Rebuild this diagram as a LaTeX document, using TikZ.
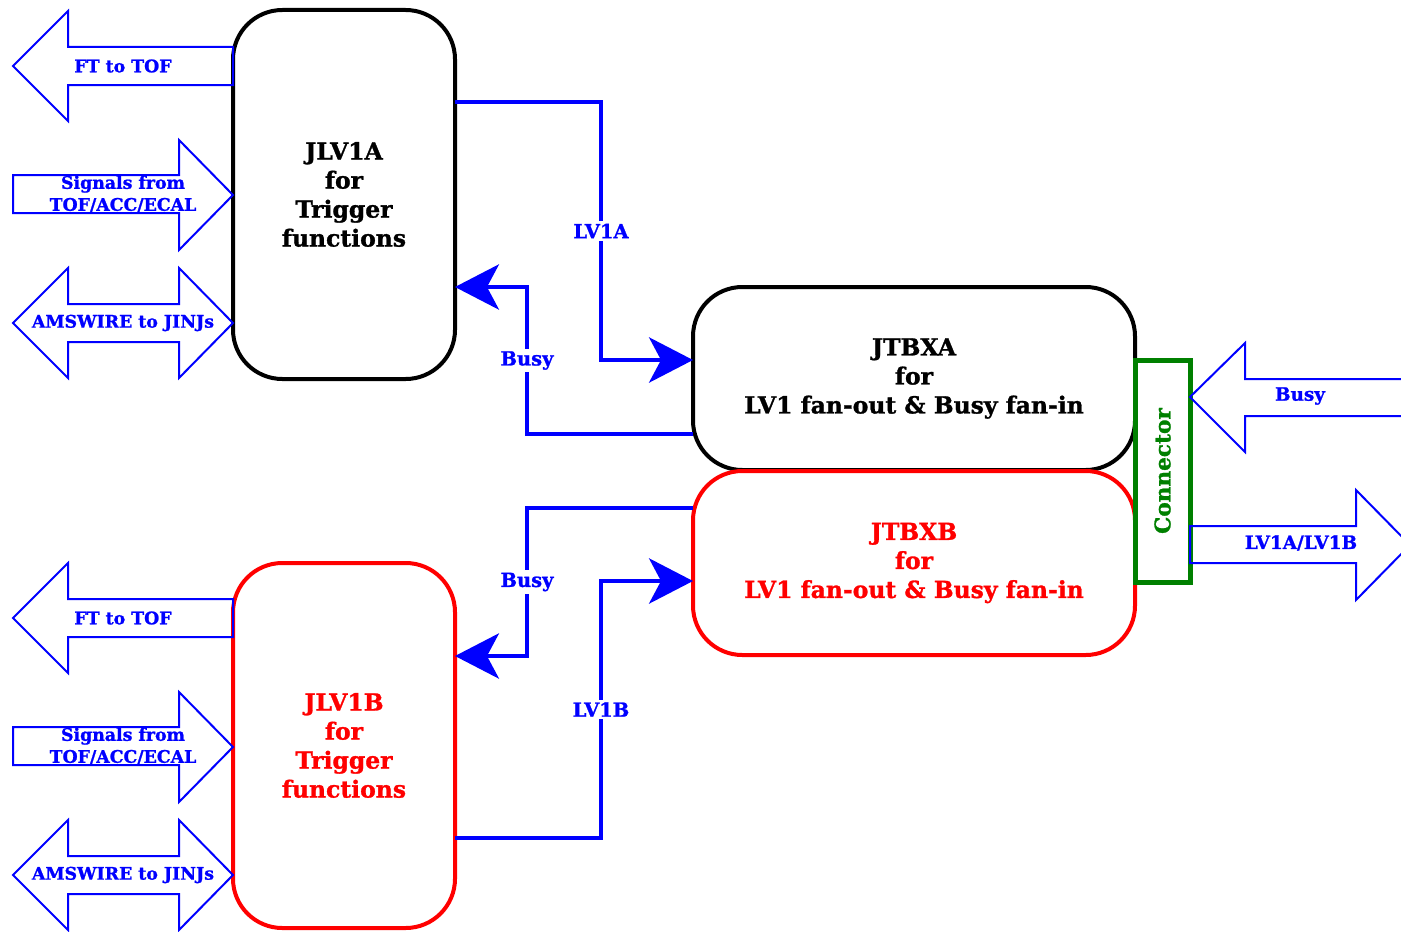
\documentclass[tikz,border=0pt]{standalone}
\usepackage{fontspec}
\setmainfont{DejaVu Serif}[BoldFont={DejaVu Serif Bold},BoldFeatures={FakeBold=1.2}]
\usetikzlibrary{arrows.meta,calc}
\definecolor{pblue}{RGB}{0,0,255}
\definecolor{pred}{RGB}{255,0,0}
\definecolor{pgreen}{RGB}{0,128,0}
\begin{document}
\begin{tikzpicture}[x=0.75pt,y=-0.75pt,
  box/.style={draw,line width=3pt,rounded corners=37pt,inner sep=0pt,outer sep=0pt,
    align=center,font=\fontsize{17.6}{21.75}\selectfont\bfseries},
  blk/.style={draw=pblue,line width=1.5pt,line join=miter},
  blktxt/.style={text=pblue,font=\fontsize{13}{16.5}\selectfont\bfseries,align=center,inner sep=0pt},
  rtxt/.style={blktxt,font=\fontsize{13.8}{16.5}\selectfont\bfseries},
  sig/.style={draw=pblue,line width=2.6pt},
  tipA/.style={-{Stealth[length=33pt,width=34pt,inset=9pt]}},
  lbl/.style={fill=white,text=pblue,font=\fontsize{14.6}{16}\selectfont\bfseries,inner sep=2pt}]
\clip (0,0) rectangle (1401,931);
\fill[white] (0,0) rectangle (1401,931);

% main boxes
\node[box,minimum width=166.5pt,minimum height=276.75pt] (A) at (344,194.5)
  {JLV1A\\for\\Trigger\\functions};
\node[box,draw=pred,text=pred,minimum width=166.5pt,minimum height=273.75pt] (B) at (344,745.5)
  {JLV1B\\for\\Trigger\\functions};
\node[box,minimum width=331.5pt,minimum height=137.25pt] (X) at (914,378.5)
  {JTBXA\\for\\LV1 fan-out \& Busy fan-in};
\node[box,draw=pred,text=pred,minimum width=331.5pt,minimum height=138pt] (Y) at (914,563)
  {JTBXB\\for\\LV1 fan-out \& Busy fan-in};
\node[draw=pgreen,line width=3.75pt,fill=white,minimum width=41.25pt,minimum height=166.5pt,
  inner sep=0pt,outer sep=0pt] (C) at (1162.5,471) {};
\node[rotate=90,text=pgreen,font=\fontsize{16.2}{18}\selectfont\bfseries] (CT) at (C.center) {Connector};

% block arrows left
\foreach \dy/\nm in {0/a,552/b}{
  \begin{scope}[yshift=-\dy*0.75pt]
  \draw[blk] (233,47) -- (68,47) -- (68,11) -- (13,66) -- (68,121) -- (68,85) -- (233,85) -- cycle;
  \draw[blk] (13,175) -- (179,175) -- (179,140) -- (233,195) -- (179,250) -- (179,213) -- (13,213) -- cycle;
  \draw[blk] (13,323) -- (68,268) -- (68,304) -- (179,304) -- (179,268) -- (233,323) -- (179,378)
    -- (179,342) -- (68,342) -- (68,378) -- cycle;
  \node[blktxt] (ft\nm) at (123,66) {FT to TOF};
  \node[blktxt] (sg\nm) at (123,194) {Signals from\\TOF/ACC/ECAL};
  \node[blktxt] (am\nm) at (123,323) {AMSWIRE to JINJs};
  \end{scope}}

% block arrows right
\draw[blk] (1190,397) -- (1245,343) -- (1245,379) -- (1420,379) -- (1420,416) -- (1245,416) -- (1245,452) -- cycle;
\draw[blk] (1190,526) -- (1356,526) -- (1356,490) -- (1410,545) -- (1356,600) -- (1356,563) -- (1190,563) -- cycle;
\node[rtxt] (rbusy) at (1300,396) {Busy};
\node[rtxt] (rlv) at (1301,543) {LV1A/LV1B};

% connectors
\draw[sig,tipA] ($(A.east)+(0,-92.5)$) -- (601,102) -- node[lbl]{LV1A} (601,360) -- ($(X.west)+(0,-18.5)$);
\draw[sig,tipA] ($(X.west)+(0,55.5)$) -- (527,434) -- node[lbl]{Busy} (527,287) -- ($(A.east)+(0,92.5)$);
\draw[sig,tipA] ($(Y.west)+(0,-55)$) -- (527,508) -- node[lbl]{Busy} (527,656) -- ($(B.east)+(0,-89.5)$);
\draw[sig,tipA] ($(B.east)+(0,92.5)$) -- (601,838) -- node[lbl]{LV1B} (601,581) -- ($(Y.west)+(0,18)$);
\end{tikzpicture}
\end{document}
